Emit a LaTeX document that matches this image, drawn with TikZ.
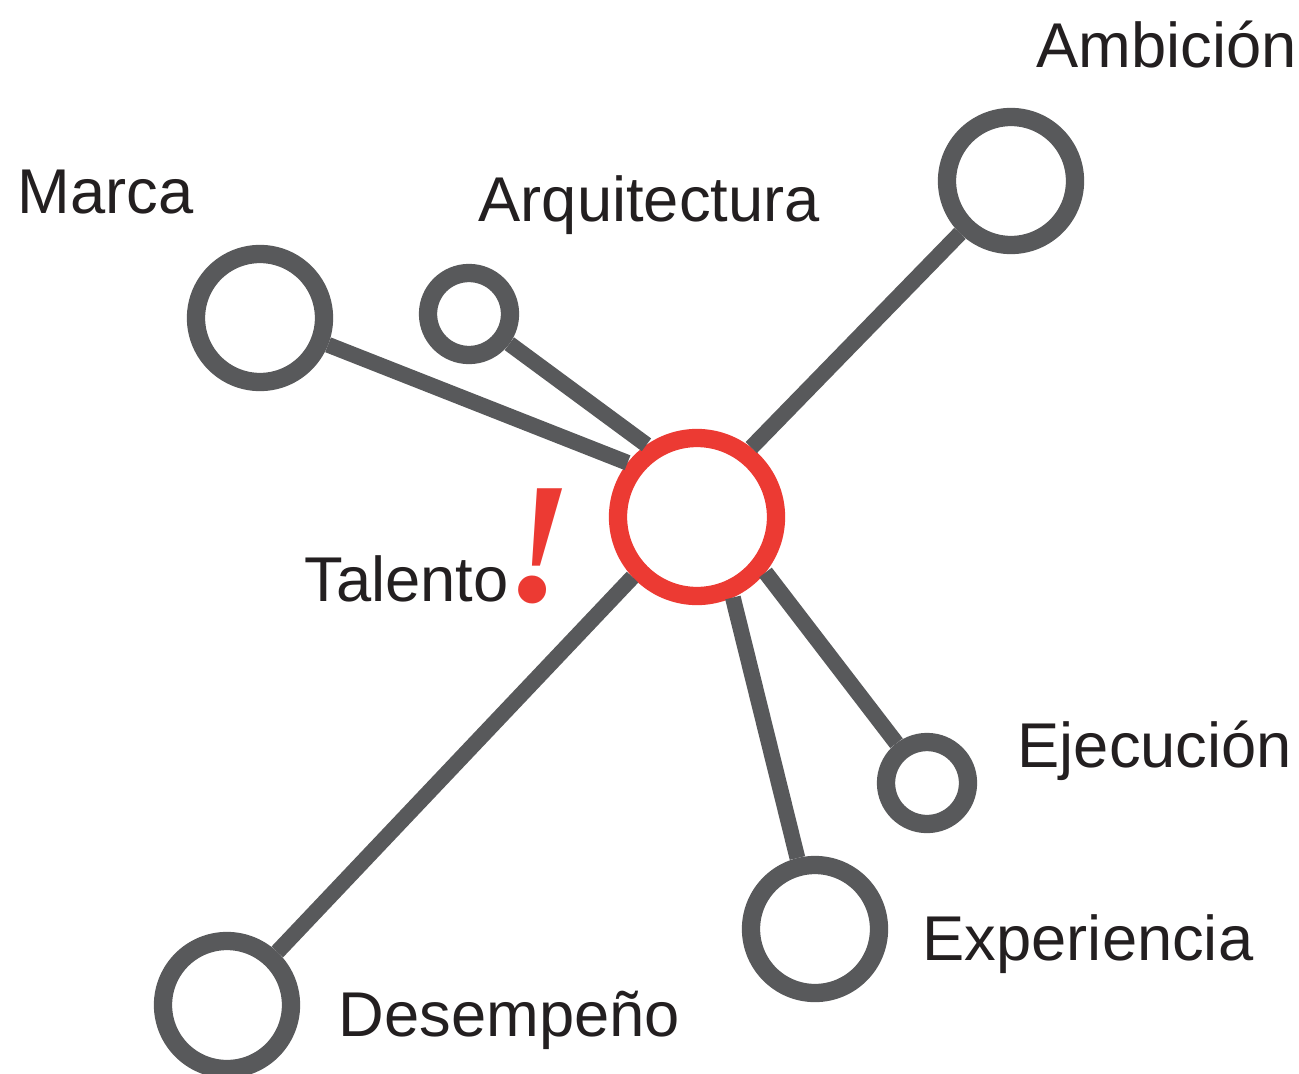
\documentclass[tikz,border=0pt]{standalone}
\usepackage{fontspec}
\setmainfont{Liberation Sans}
\newfontfamily\bangfont{Liberation Serif}
\usepackage{tikz}
\usetikzlibrary{positioning}
\definecolor{ringgray}{HTML}{58595B}
\definecolor{talred}{HTML}{EC3A33}
\definecolor{txt}{HTML}{231F20}
\tikzset{ring/.style={circle,draw=ringgray,line width=5.2pt,inner sep=0pt,minimum size=12.8mm},
  sring/.style={ring,minimum size=8.2mm},
  hub/.style={circle,draw=talred,line width=5.2pt,inner sep=0pt,minimum size=15.8mm},
  lbl/.style={anchor=base west,inner sep=0pt,text=txt,font=\fontsize{18}{20}\selectfont},
  spoke/.style={draw=ringgray,line width=4.5pt}}

\begin{document}
\begin{tikzpicture}[x=0.1mm,y=-0.1mm]
    \useasboundingbox (0,0) rectangle (1299,1073);
    \node[hub] (tal) at (697,517) {};
    \node[ring] (amb) at (1011,181) {};
    \node[ring] (mar) at (260,318) {};
    \node[sring] (arq) at (469,314) {};
    \node[sring] (eje) at (927,783) {};
    \node[ring] (exp) at (815,929) {};
    \node[ring] (des) at (227,1005) {};

    \draw [spoke] (tal.52) to [] (amb);
    \draw [spoke] (tal.142) to [] (mar);
    \draw [spoke] (tal.125) to [] (arq);
    \draw [spoke] (tal.321) to [] (eje);
    \draw [spoke] (tal.294) to [] (exp);
    \draw [spoke] (tal.223) to [] (des);

    \node[lbl] (lamb) at (1036,68) {Ambición};
    \node[lbl] (lmar) at (17,213) {Marca};
    \node[lbl] (larq) at (478,221) {Arquitectura};
    \node[lbl] (ltal) at (304,601) {Talento};
    \node[lbl,text=talred,font=\bangfont\fontsize{49}{49}\selectfont\bfseries\itshape] (bang) at (505,601) {!};
    \node[lbl] (leje) at (1017,767) {Ejecución};
    \node[lbl] (lexp) at (922,960) {Experiencia};
    \node[lbl] (ldes) at (338,1036) {Desempeño};
\end{tikzpicture}
\end{document}
